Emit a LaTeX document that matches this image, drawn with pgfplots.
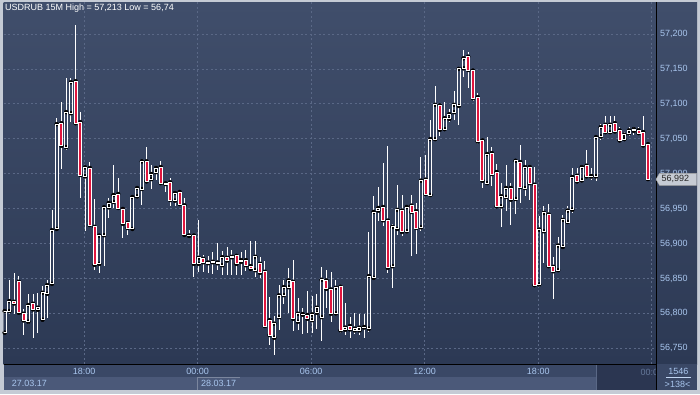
\documentclass[border=0pt]{standalone}
\usepackage{fontspec}
\setmainfont{Liberation Sans}
\usepackage{pgfplots}
\pgfplotsset{compat=1.18}
\usepackage{pgfplotstable}
\definecolor{framegrey}{HTML}{C5CBD5}
\definecolor{bgtop}{HTML}{404E6B}
\definecolor{bgbot}{HTML}{2C3954}
\definecolor{timerow}{HTML}{3A4866}
\definecolor{daterow}{HTML}{4B5979}
\definecolor{gridc}{HTML}{5A6886}
\definecolor{ticklab}{HTML}{A9C6EE}
\definecolor{candlered}{HTML}{E0163E}
\definecolor{pricebox}{HTML}{C6CBD4}
\definecolor{scrollbox}{HTML}{2B3651}

\pgfplotstableread{
i o h l c
0 56.7724 56.8037 56.7720 56.8033
1 56.8033 56.8485 56.7995 56.8176
2 56.8166 56.8576 56.7985 56.8142
3 56.8452 56.8542 56.8005 56.8009
4 56.7995 56.8057 56.7690 56.7900
5 56.7881 56.8281 56.7842 56.8119
6 56.8138 56.8281 56.7642 56.8057
7 56.8052 56.8295 56.7724 56.8081
8 56.7909 56.8390 56.7890 56.8295
9 56.8281 56.8485 56.7938 56.8404
10 56.8423 56.9485 56.8404 56.9190
11 56.9209 57.0795 56.9205 57.0709
12 57.0723 57.1023 57.0066 57.0400
13 57.0381 57.1376 57.0333 57.0881
14 57.0866 57.1366 57.0738 57.1309
15 57.1323 57.2128 57.0718 57.0723
16 57.0738 57.0890 56.9652 56.9981
17 56.9962 57.0104 56.9185 57.0090
18 57.0081 57.0162 56.9262 56.9266
19 56.9238 56.9642 56.8628 56.8695
20 56.8709 56.9128 56.8581 56.9114
21 56.9119 56.9542 56.8676 56.9519
22 56.9519 56.9652 56.9366 56.9581
23 56.9595 57.0128 56.9509 56.9695
24 56.9709 56.9938 56.9485 56.9509
25 56.9495 56.9500 56.9081 56.9281
26 56.9295 56.9300 56.9119 56.9223
27 56.9209 56.9685 56.9205 56.9666
28 56.9676 56.9804 56.9672 56.9795
29 56.9781 57.0195 56.9557 57.0176
30 57.0176 57.0385 56.9866 56.9890
31 56.9923 57.0119 56.9781 56.9995
32 57.0023 57.0095 56.9914 57.0081
33 57.0095 57.0176 56.9833 56.9866
34 56.9852 56.9876 56.9738 56.9862
35 56.9876 56.9938 56.9533 56.9623
36 56.9614 56.9733 56.9533 56.9723
37 56.9738 56.9747 56.9547 56.9566
38 56.9547 56.9652 56.9090 56.9123
39 56.9114 56.9200 56.9090 56.9109
40 56.9114 56.9128 56.8519 56.8709
41 56.8709 56.9342 56.8595 56.8795
42 56.8781 56.8842 56.8595 56.8733
43 56.8719 56.8819 56.8581 56.8728
44 56.8733 56.8881 56.8566 56.8738
45 56.8719 56.9009 56.8614 56.8728
46 56.8690 56.8900 56.8547 56.8804
47 56.8795 56.8947 56.8547 56.8757
48 56.8804 56.8914 56.8547 56.8809
49 56.8823 56.8852 56.8547 56.8709
50 56.8762 56.8881 56.8547 56.8738
51 56.8762 56.8914 56.8604 56.8690
52 56.8676 56.9042 56.8628 56.8638
53 56.8619 56.9042 56.8519 56.8809
54 56.8709 56.8804 56.8500 56.8581
55 56.8595 56.8757 56.7804 56.7819
56 56.7904 56.8238 56.7547 56.7690
57 56.7652 56.7962 56.7404 56.7852
58 56.7947 56.8404 56.7757 56.8257
59 56.8262 56.8485 56.8138 56.8376
60 56.8376 56.8652 56.8009 56.8471
61 56.8452 56.8771 56.7747 56.7923
62 56.7881 56.8214 56.7757 56.7995
63 56.7981 56.8081 56.7709 56.7990
64 56.7976 56.8319 56.7724 56.7923
65 56.7904 56.8247 56.7724 56.7985
66 56.8009 56.8281 56.7771 56.8081
67 56.7947 56.8666 56.7604 56.8481
68 56.8471 56.8628 56.8081 56.8352
69 56.8342 56.8590 56.7881 56.7995
70 56.8000 56.8485 56.7995 56.8366
71 56.8381 56.8390 56.7724 56.7757
72 56.7766 56.8152 56.7690 56.7795
73 56.7819 56.7952 56.7652 56.7771
74 56.7757 56.8009 56.7700 56.7781
75 56.7757 56.7985 56.7690 56.7795
76 56.7800 56.7985 56.7652 56.7804
77 56.7781 56.9166 56.7738 56.8533
78 56.8509 56.9676 56.8485 56.9452
79 56.9471 56.9809 56.9319 56.9509
80 56.9523 57.0152 56.9247 56.9333
81 56.9328 57.0400 56.8581 56.8652
82 56.8676 56.9281 56.8357 56.9238
83 56.9209 56.9842 56.9128 56.9481
84 56.9471 56.9700 56.9104 56.9166
85 56.9176 56.9547 56.9172 56.9523
86 56.9542 56.9700 56.8819 56.9452
87 56.9462 56.9581 56.8857 56.9223
88 56.9233 57.0238 56.9176 56.9900
89 56.9914 57.0271 56.9690 56.9709
90 56.9695 57.0771 56.9690 57.0495
91 57.0495 57.1262 57.0490 57.0985
92 57.0976 57.0995 57.0533 57.0628
93 57.0638 57.1023 57.0628 57.0795
94 57.0785 57.0928 57.0738 57.0852
95 57.0881 57.1185 57.0771 57.0985
96 57.0971 57.1519 57.0690 57.1500
97 57.1509 57.1771 57.1390 57.1652
98 57.1676 57.1747 57.1223 57.1485
99 57.1476 57.1485 57.1047 57.1081
100 57.1095 57.1152 57.0423 57.0462
101 57.0476 57.0480 56.9795 56.9900
102 56.9866 57.0523 56.9862 57.0281
103 57.0295 57.0381 56.9819 56.9995
104 57.0023 57.0138 56.9509 56.9533
105 56.9533 56.9866 56.9233 56.9676
106 56.9666 57.0128 56.9462 56.9795
107 56.9795 56.9866 56.9262 56.9628
108 56.9638 57.0190 56.9428 57.0185
109 57.0166 57.0414 56.9581 56.9809
110 56.9795 57.0200 56.9676 57.0095
111 57.0095 57.0104 56.9628 56.9866
112 56.9842 57.0095 56.8390 56.8404
113 56.8414 56.9400 56.8376 56.9200
114 56.9176 56.9542 56.8723 56.9438
115 56.9414 56.9571 56.8662 56.8676
116 56.8666 56.8804 56.8200 56.8604
117 56.8619 56.9090 56.8600 56.8971
118 56.8952 56.9414 56.8938 56.9338
119 56.9309 56.9533 56.9305 56.9471
120 56.9485 57.0081 56.9433 56.9952
121 56.9971 57.0081 56.9876 56.9890
122 56.9904 57.0128 56.9900 57.0095
123 57.0114 57.0342 56.9938 56.9962
124 56.9962 57.0081 56.9914 56.9966
125 56.9962 57.0542 56.9890 57.0523
126 57.0533 57.0709 57.0485 57.0666
127 57.0700 57.0828 57.0566 57.0595
128 57.0595 57.0828 57.0581 57.0700
129 57.0723 57.0828 57.0581 57.0604
130 57.0619 57.0666 57.0447 57.0476
131 57.0495 57.0604 57.0462 57.0557
132 57.0581 57.0666 57.0533 57.0619
133 57.0638 57.0666 57.0557 57.0614
134 57.0619 57.0666 57.0566 57.0581
135 57.0595 57.0828 57.0390 57.0404
136 57.0423 57.0438 56.9904 56.9923
}\candles

\begin{document}
\begin{tikzpicture}[x=1pt,y=1pt]
% frame and panels
\fill[framegrey] (0,0) rectangle (700,394);
\shade[top color=bgtop, bottom color=bgbot] (3.5,29.7) rectangle (697,391.5);
\fill[timerow] (3.5,17) rectangle (697,29.7);
\fill[daterow] (3.5,4) rectangle (697,17);
\fill[timerow] (656.5,4) rectangle (697,29.7);

% main axis: grid, ticks, wicks
\begin{axis}[
  at={(3.5pt,29.7pt)}, anchor=south west,
  scale only axis, width=653pt, height=361.8pt,
  xmin=-0.247, xmax=137.8, ymin=56.7271, ymax=57.2451,
  enlargelimits=false,
  axis x line*=bottom, axis y line*=right,
  axis line style={black, line width=1pt},
  xtick={16.8,40.8,64.8,88.8,112.8,136.8},
  xticklabels={18:00,00:00,06:00,12:00,18:00,{}},
  ytick={56.75,56.8,56.85,56.9,56.95,57,57.05,57.1,57.15,57.2},
  yticklabels={{56,750},{56,800},{56,850},{56,900},{56,950},{57,000},{57,050},{57,100},{57,150},{57,200}},
  grid=major,
  major grid style={gridc, dash pattern=on 2pt off 2.5pt, line width=0.7pt},
  major tick length=0pt,
  tick label style={font=\fontsize{9}{10}\selectfont, text=ticklab},
  /pgf/number format/assume math mode=true,
]
% upper wicks
\addplot[only marks, mark=none,
  error bars/.cd, y dir=both, y explicit, error mark=none,
  error bar style={white, line width=0.9pt}]
  table[x=i, y expr={max(\thisrow{o},\thisrow{c})},
        y error plus expr={\thisrow{h}-max(\thisrow{o},\thisrow{c})},
        y error minus expr={0}] {\candles};
% lower wicks
\addplot[only marks, mark=none,
  error bars/.cd, y dir=both, y explicit, error mark=none,
  error bar style={white, line width=0.9pt}]
  table[x=i, y expr={min(\thisrow{o},\thisrow{c})},
        y error plus expr={0},
        y error minus expr={min(\thisrow{o},\thisrow{c})-\thisrow{l}}] {\candles};
\end{axis}

% bodies (same geometry, prices shifted by 56.7)
\begin{axis}[
  at={(3.5pt,29.7pt)}, anchor=south west,
  scale only axis, width=653pt, height=361.8pt,
  xmin=-0.247, xmax=137.8, ymin=0.0271, ymax=0.5451,
  enlargelimits=false, hide axis,
  ybar stacked, bar width=3pt,
]
\addplot[draw=none, fill=none] table[x=i, y expr={min(\thisrow{o},\thisrow{c})-56.7}] {\candles};
\addplot[draw=white, fill=none, line width=0.9pt] table[x=i, y expr={max(\thisrow{c}-\thisrow{o},0)}] {\candles};
\addplot[draw=white, fill=candlered, line width=0.9pt] table[x=i, y expr={max(\thisrow{o}-\thisrow{c},0)}] {\candles};
\end{axis}

% title
\node[anchor=west, inner sep=0pt, text=white, font=\fontsize{9}{10}\selectfont] at (5,385.7) {USDRUB 15M High = 57,213 Low = 56,74};

% last price box
\fill[pricebox, draw=gray!70] (656,214.7) -- (659.5,220.7) -- (696.5,220.7) -- (696.5,208.7) -- (659.5,208.7) -- cycle;
\node[anchor=west, inner sep=0pt, text=black!85, font=\fontsize{9}{10}\selectfont] at (661.5,214.7) {56,992};

% bottom panel
\fill[scrollbox] (596.5,4) rectangle (656,29.2);
\draw[gridc, line width=0.6pt] (596.5,4) -- (596.5,29.2);
\begin{scope}
\clip (596.5,4) rectangle (656,29.2);
\node[text=ticklab!45!scrollbox, font=\fontsize{9}{10}\selectfont] at (651.8,22) {00:00};
\end{scope}
\draw[black, line width=1pt] (656.5,4) -- (656.5,30);
\draw[gridc!80!white, line width=0.6pt] (197.5,4) -- (197.5,17) -- (240,17);
\node[anchor=west, inner sep=0pt, text=ticklab, font=\fontsize{9}{10}\selectfont] at (11.7,10.3) {27.03.17};
\node[anchor=west, inner sep=0pt, text=ticklab, font=\fontsize{9}{10}\selectfont] at (201,10.3) {28.03.17};
\node[text=ticklab, inner sep=0pt, font=\fontsize{9}{10}\selectfont] at (678.3,22.8) {1546};
\draw[ticklab!70, line width=0.6pt] (666,16.7) -- (690.7,16.7);
\node[text=ticklab, inner sep=0pt, font=\fontsize{9}{10}\selectfont] at (677.5,9.5) {>138<};

\pgfresetboundingbox
\useasboundingbox (0,0) rectangle (700,394);
\end{tikzpicture}
\end{document}
